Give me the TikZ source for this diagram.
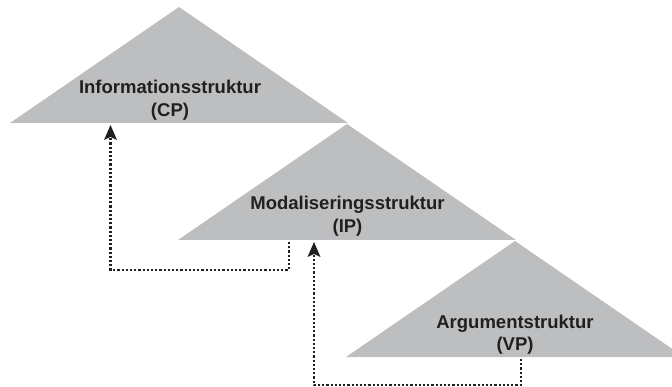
\documentclass[tikz,border=0pt]{standalone}
\usepackage{fontspec}
\setmainfont{Liberation Sans}
\usetikzlibrary{arrows.meta}
\definecolor{layergray}{RGB}{188,190,192}
\definecolor{inkdark}{RGB}{35,31,32}
\tikzset{
  layer/.style={fill=layergray, draw=none},
  layerlabel/.style={text=inkdark, align=center, inner sep=0pt,
    font=\fontsize{18.5}{22.5}\selectfont\bfseries},
  feedback/.style={draw=inkdark, line width=2.2pt, dash pattern=on 2.2pt off 2pt,
    -{Stealth[length=15pt,width=13pt,inset=3pt,line width=0pt]}}
}
\begin{document}
\begin{tikzpicture}[x=1pt,y=-1pt]
\useasboundingbox (0,0) rectangle (672,387);
\clip (0,0) rectangle (672,387);
% three stacked layers: apex and base corners
\coordinate (cp-top) at (179,7);
\coordinate (ip-top) at (347,124);
\coordinate (vp-top) at (515,241);
\fill[layer] (cp-top) -- ++(-169,116) -- ++(338,0) -- cycle;
\fill[layer] (ip-top) -- ++(-169,116) -- ++(338,0) -- cycle;
\fill[layer] (vp-top) -- ++(-169,116) -- ++(338,0) -- cycle;
% labels (base = baseline of the second line)
\node[layerlabel, anchor=base] (cp) at (170,116.5) {Informationsstruktur\\(CP)};
\node[layerlabel, anchor=base] (ip) at (347.5,232.5) {Modaliseringsstruktur\\(IP)};
\node[layerlabel, anchor=base] (vp) at (515,350.5) {Argumentstruktur\\(VP)};
% feet of the connectors below each base
\coordinate (ip-foot) at (289,242);
\coordinate (vp-foot) at (521,359);
\coordinate (cp-target) at (110.5,125);
\coordinate (ip-target) at (314,242);
% dotted feedback paths
\draw[feedback] (ip-foot) -- ++(0,28) -| (cp-target);
\draw[feedback] (vp-foot) -- ++(0,26) -| (ip-target);
\end{tikzpicture}
\end{document}
